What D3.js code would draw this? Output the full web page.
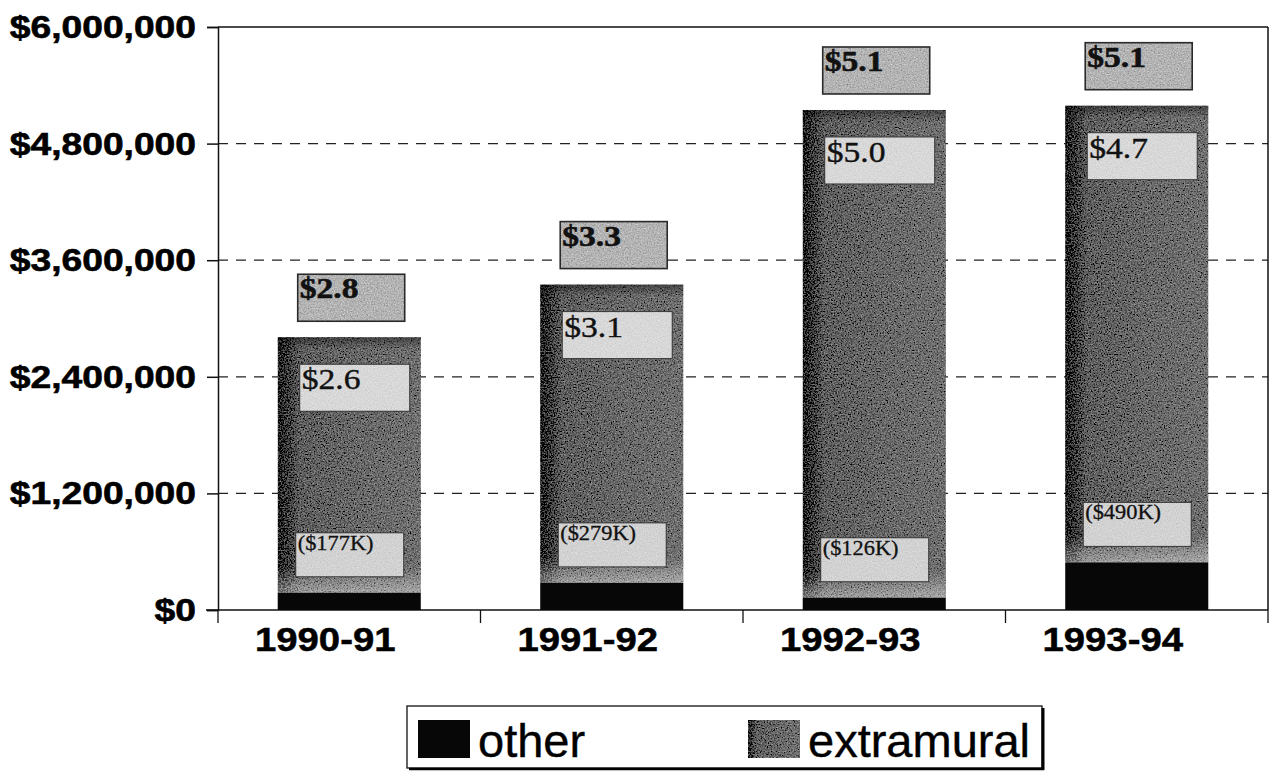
<!DOCTYPE html>
<html><head><meta charset="utf-8">
<script src="https://cdn.jsdelivr.net/npm/d3@7"></script>
<style>html,body{margin:0;padding:0;background:#fff;}svg{display:block;}</style>
</head><body>
<svg id="c" width="1273" height="782"></svg>
<script>
const categories = ["1990-91", "1991-92", "1992-93", "1993-94"];
const otherValues = [177000, 279000, 126000, 490000];
const extramuralValues = [2630000, 3070000, 5020000, 4700000];
const totalLabels = ["$2.8", "$3.3", "$5.1", "$5.1"];
const extramuralLabels = ["$2.6", "$3.1", "$5.0", "$4.7"];
const otherLabels = ["($177K)", "($279K)", "($126K)", "($490K)"];
const yTicks = [0, 1200000, 2400000, 3600000, 4800000, 6000000];
const seriesNames = ["other", "extramural"];

const svg = d3.select("#c");
const defs = svg.append("defs");

const L = 218, R = 1268, T = 27, B = 610;
const x = d3.scaleBand().domain(categories).range([L, R]).paddingInner(0.455).paddingOuter(0.2275);
const y = d3.scaleLinear().domain([0, 6000000]).range([B, T]);
const step = x.step();

// grain filter
function grain(id, amt, freq) {
  const f = defs.append("filter").attr("id", id).attr("x", 0).attr("y", 0).attr("width", "100%").attr("height", "100%");
  f.append("feTurbulence").attr("type", "fractalNoise").attr("baseFrequency", freq).attr("numOctaves", 2).attr("seed", 4).attr("result", "n");
  f.append("feColorMatrix").attr("in", "n").attr("type", "matrix")
    .attr("values", "0.33 0.33 0.33 0 0 0.33 0.33 0.33 0 0 0.33 0.33 0.33 0 0 0 0 0 0 1").attr("result", "g");
  f.append("feComposite").attr("in", "SourceGraphic").attr("in2", "g").attr("operator", "arithmetic")
    .attr("k1", 0).attr("k2", 1).attr("k3", amt).attr("k4", -amt / 2).attr("result", "m");
  f.append("feComposite").attr("in", "m").attr("in2", "SourceAlpha").attr("operator", "in");
}
grain("grain", 0.9, 0.7);
grain("grainSoft", 0.5, 0.8);

const gh = defs.append("linearGradient").attr("id", "barGrad").attr("x1", 0).attr("x2", 1).attr("y1", 0).attr("y2", 0);
[[0, "#141414"], [0.05, "#333"], [0.15, "#5f5f5f"], [0.6, "#6a6a6a"], [1, "#707070"]]
  .forEach(([o, c]) => gh.append("stop").attr("offset", o).attr("stop-color", c));
const gv = defs.append("linearGradient").attr("id", "bottomGlow").attr("x1", 0).attr("x2", 0).attr("y1", 0).attr("y2", 1);
gv.append("stop").attr("offset", 0).attr("stop-color", "#fff").attr("stop-opacity", 0);
gv.append("stop").attr("offset", 1).attr("stop-color", "#fff").attr("stop-opacity", 0.4);
const gt = defs.append("linearGradient").attr("id", "topDark").attr("x1", 0).attr("x2", 0).attr("y1", 0).attr("y2", 1);
gt.append("stop").attr("offset", 0).attr("stop-color", "#000").attr("stop-opacity", 0.4);
gt.append("stop").attr("offset", 1).attr("stop-color", "#000").attr("stop-opacity", 0);

function txt(parent, tx, ty, s, opts) {
  const g = parent.append("g").attr("transform", `translate(${tx},${ty}) scale(${opts.sx || 1},1)`);
  const t = g.append("text").attr("x", 0).attr("y", 0)
    .attr("font-family", opts.family || "'Liberation Sans', Arial, sans-serif")
    .attr("font-size", opts.size).attr("font-weight", opts.weight || "normal")
    .attr("text-anchor", opts.anchor || "start").attr("fill", opts.fill || "#000").text(s);
  if (opts.stroke) t.attr("stroke", opts.fill || "#000").attr("stroke-width", opts.stroke);
  return t;
}

// gridlines
svg.append("g").selectAll("line").data(yTicks.filter(v => v > 0 && v < 6000000)).join("line")
  .attr("x1", L).attr("x2", R).attr("y1", d => y(d)).attr("y2", d => y(d))
  .attr("stroke", "#222").attr("stroke-width", 1.2).attr("stroke-dasharray", "10,8");
// top and right border
svg.append("line").attr("x1", L).attr("x2", R).attr("y1", y(6000000)).attr("y2", y(6000000)).attr("stroke", "#111").attr("stroke-width", 1.5);
svg.append("line").attr("x1", R).attr("x2", R).attr("y1", T).attr("y2", B).attr("stroke", "#111").attr("stroke-width", 1.5);

// y axis
const yAxis = svg.append("g").attr("transform", `translate(${L},0)`)
  .call(d3.axisLeft(y).tickValues(yTicks).tickSize(11).tickFormat(""));
yAxis.select(".domain").attr("stroke", "#111").attr("stroke-width", 1.5);
yAxis.selectAll(".tick line").attr("stroke", "#111").attr("stroke-width", 1.5);
const yFmt = d3.format("$,");
yTicks.forEach(v => txt(svg, 196, y(v) + 11, yFmt(v), { size: 31, weight: "bold", anchor: "end", sx: 1.2, stroke: 0.6 }));

// x axis with boundary ticks
const xAxis = svg.append("g").attr("transform", `translate(0,${B})`);
xAxis.append("line").attr("x1", L - 12).attr("x2", R).attr("y1", 0).attr("y2", 0).attr("stroke", "#111").attr("stroke-width", 1.5);
xAxis.selectAll("line.bt").data(d3.range(categories.length + 1)).join("line").attr("class", "bt")
  .attr("x1", i => L + i * step).attr("x2", i => L + i * step).attr("y1", 0).attr("y2", 13)
  .attr("stroke", "#111").attr("stroke-width", 1.3);
categories.forEach(c => txt(svg, x(c) + x.bandwidth() / 2 - 24, 651, c, { size: 33, weight: "bold", anchor: "middle", sx: 1.16, stroke: 0.5 }));

// bars
const data = categories.map((c, i) => ({ c, other: otherValues[i], extramural: extramuralValues[i] }));
const stack = d3.stack().keys(seriesNames)(data);
const bars = svg.append("g");
const bw = x.bandwidth();
stack[1].forEach((s, i) => {
  const c = categories[i];
  bars.append("rect").attr("x", x(c)).attr("width", bw).attr("y", y(s[1])).attr("height", y(s[0]) - y(s[1]))
    .attr("fill", "url(#barGrad)").attr("filter", "url(#grain)");
  bars.append("rect").attr("x", x(c)).attr("width", bw).attr("y", y(s[0]) - 26).attr("height", 26)
    .attr("fill", "url(#bottomGlow)");
  bars.append("rect").attr("x", x(c)).attr("width", bw).attr("y", y(s[1])).attr("height", 12)
    .attr("fill", "url(#topDark)");
});
stack[0].forEach((s, i) => {
  const c = categories[i];
  bars.append("rect").attr("x", x(c)).attr("width", bw).attr("y", y(s[1])).attr("height", y(s[0]) - y(s[1]))
    .attr("fill", "#070707");
});

// label boxes
const lab = svg.append("g");
const serif = "'Liberation Serif', 'Times New Roman', serif";
categories.forEach((c, i) => {
  const top = y(stack[1][i][1]);
  const otop = y(stack[0][i][1]);
  const bx = x(c);
  // total
  lab.append("rect").attr("x", bx + 20).attr("y", top - 16 - 47).attr("width", 107).attr("height", 47)
    .attr("fill", "#b4b4b4").attr("filter", "url(#grain)");
  lab.append("rect").attr("x", bx + 20).attr("y", top - 16 - 47).attr("width", 107).attr("height", 47)
    .attr("fill", "none").attr("stroke", "#2a2a2a").attr("stroke-width", 1.6);
  txt(lab, bx + 22, top - 16 - 47 + 24, totalLabels[i], { size: 30, weight: "bold", family: serif, sx: 1.12, fill: "#111", stroke: 0.6 });
  // extramural
  lab.append("rect").attr("x", bx + 22).attr("y", top + 27).attr("width", 110).attr("height", 47)
    .attr("fill", "#d8d8d8").attr("filter", "url(#grainSoft)");
  lab.append("rect").attr("x", bx + 22).attr("y", top + 27).attr("width", 110).attr("height", 47)
    .attr("fill", "none").attr("stroke", "#3a3a3a").attr("stroke-width", 1);
  txt(lab, bx + 24, top + 27 + 25, extramuralLabels[i], { size: 30, family: serif, sx: 1.12, fill: "#111", stroke: 0.4 });
  // other
  lab.append("rect").attr("x", bx + 18).attr("y", otop - 16 - 44).attr("width", 108).attr("height", 44)
    .attr("fill", "#d2d2d2").attr("filter", "url(#grainSoft)");
  lab.append("rect").attr("x", bx + 18).attr("y", otop - 16 - 44).attr("width", 108).attr("height", 44)
    .attr("fill", "none").attr("stroke", "#3a3a3a").attr("stroke-width", 1);
  txt(lab, bx + 20, otop - 16 - 44 + 17, otherLabels[i], { size: 20, family: serif, sx: 1.12, fill: "#111", stroke: 0.3 });
});

// legend
const lg = svg.append("g");
lg.append("rect").attr("x", 407).attr("y", 706).attr("width", 635).attr("height", 62)
  .attr("fill", "#fff").attr("stroke", "#111").attr("stroke-width", 1.3);
lg.append("line").attr("x1", 1043).attr("x2", 1043).attr("y1", 708).attr("y2", 770).attr("stroke", "#000").attr("stroke-width", 3);
lg.append("line").attr("x1", 409).attr("x2", 1044).attr("y1", 769).attr("y2", 769).attr("stroke", "#000").attr("stroke-width", 2.5);
const legendX = [418, 748];
seriesNames.forEach((n, i) => {
  lg.append("rect").attr("x", legendX[i]).attr("y", 720).attr("width", 52).attr("height", 38)
    .attr("fill", i === 0 ? "#070707" : "url(#barGrad)").attr("filter", i === 0 ? null : "url(#grain)");
  txt(lg, legendX[i] + 60, 757, n, { size: 47, sx: 1.0, stroke: 0.4 });
});
</script>
</body></html>
